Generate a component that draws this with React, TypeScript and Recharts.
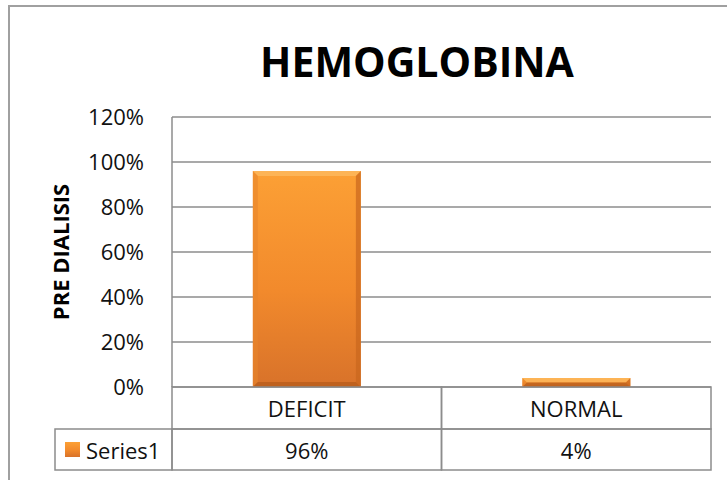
import { BarChart, Bar, XAxis, YAxis, CartesianGrid } from 'recharts'

const categories = ['DEFICIT', 'NORMAL']
const series1 = [0.96, 0.04]
const seriesName = 'Series1'
const yTicks = [0, 0.2, 0.4, 0.6, 0.8, 1.0, 1.2]

const data = categories.map((c, i) => ({ name: c, value: series1[i] }))

const FONT = '"Open Sans", "Liberation Sans", sans-serif'
const GRID = '#8c8c8c'
const TXT = 22
const pct = (v: number) => `${Math.round(v * 100)}%`

// plot box in page pixels
const PLOT_LEFT = 172
const PLOT_RIGHT = 711
const HALF = (PLOT_RIGHT - PLOT_LEFT) / categories.length / 2
const ROW1 = 42
const ROW2 = 41
const LEGEND_W = 117

function TableTick(props: any) {
  const { x, y, payload, index } = props
  const i = payload?.index ?? index
  return (
    <g>
      <rect x={x - HALF} y={y} width={HALF * 2} height={ROW1} fill="none" stroke={GRID} strokeWidth={1.5} />
      <rect x={x - HALF} y={y + ROW1} width={HALF * 2} height={ROW2} fill="none" stroke={GRID} strokeWidth={1.5} />
      <text x={x} y={y + ROW1 / 2} textAnchor="middle" dominantBaseline="central" fontFamily={FONT} fontSize={TXT} fill="#111">
        {payload.value}
      </text>
      <text x={x} y={y + ROW1 + ROW2 / 2} textAnchor="middle" dominantBaseline="central" fontFamily={FONT} fontSize={TXT} fill="#111">
        {pct(series1[i])}
      </text>
      {i === 0 && (
        <g>
          <rect x={x - HALF - LEGEND_W} y={y + ROW1} width={LEGEND_W} height={ROW2} fill="none" stroke={GRID} strokeWidth={1.5} />
          <rect x={x - HALF - LEGEND_W + 10} y={y + ROW1 + 13} width={15} height={15} fill="url(#barGrad)" />
          <text x={x - HALF - LEGEND_W + 31} y={y + ROW1 + ROW2 / 2} dominantBaseline="central" fontFamily={FONT} fontSize={TXT} fill="#111">
            {seriesName}
          </text>
        </g>
      )}
    </g>
  )
}

function BevelBar(props: any) {
  const { x, y, width, height } = props
  if (!height || height <= 0) return null
  const b = Math.min(5, height / 2)
  return (
    <g>
      <rect x={x} y={y} width={width} height={height} fill="url(#barGrad)" />
      <polygon points={`${x},${y} ${x + width},${y} ${x + width - b},${y + b} ${x + b},${y + b}`} fill="#fdb75c" opacity={0.85} />
      <polygon points={`${x},${y} ${x + b},${y + b} ${x + b},${y + height - b} ${x},${y + height}`} fill="#e7852c" opacity={0.6} />
      <polygon points={`${x + width},${y} ${x + width - b},${y + b} ${x + width - b},${y + height - b} ${x + width},${y + height}`} fill="#c9661e" opacity={0.7} />
      <polygon points={`${x},${y + height} ${x + b},${y + height - b} ${x + width - b},${y + height - b} ${x + width},${y + height}`} fill="#b45a1a" opacity={0.7} />
    </g>
  )
}

export default function App() {
  return (
    <div style={{ position: 'absolute', left: 0, top: 0, width: 727, height: 480, overflow: 'hidden', background: '#fff' }}>
      <div style={{ position: 'absolute', left: 8, top: 5, width: 740, height: 500, borderLeft: '2px solid #a0a0a0', borderTop: '2px solid #a0a0a0' }} />
      <div style={{ position: 'absolute', left: 0, top: 33, width: 834, textAlign: 'center', fontFamily: FONT, fontWeight: 700, fontSize: 41, color: '#000' }}>
        HEMOGLOBINA
      </div>
      <div style={{ position: 'absolute', left: 0, top: 0 }}>
        <BarChart width={727} height={480} data={data} margin={{ top: 117, right: 727 - PLOT_RIGHT, left: 0, bottom: 10 }} barCategoryGap="30%">
          <defs>
            <linearGradient id="barGrad" x1="0" y1="0" x2="0" y2="1">
              <stop offset="0%" stopColor="#fca035" />
              <stop offset="55%" stopColor="#f28a2c" />
              <stop offset="100%" stopColor="#d8722a" />
            </linearGradient>
          </defs>
          <CartesianGrid vertical={false} stroke={GRID} strokeWidth={1.5} />
          <XAxis
            dataKey="name"
            height={83}
            axisLine={false}
            tickLine={false}
            tickSize={0}
            tickMargin={0}
            interval={0}
            tick={<TableTick />}
          />
          <YAxis
            width={PLOT_LEFT}
            domain={[0, 1.2]}
            ticks={yTicks}
            tickFormatter={pct}
            axisLine={{ stroke: GRID, strokeWidth: 1.5 }}
            tickLine={false}
            tickSize={0}
            tickMargin={28}
            tick={{ fontFamily: FONT, fontSize: TXT, fill: '#111' }}
            label={{
              value: 'PRE DIALISIS',
              angle: -90,
              position: 'insideLeft',
              offset: 61,
              style: { textAnchor: 'middle', fontFamily: FONT, fontWeight: 700, fontSize: 22, fill: '#000' },
            }}
          />
          <Bar dataKey="value" name={seriesName} shape={<BevelBar />} isAnimationActive={false} />
        </BarChart>
      </div>
    </div>
  )
}
